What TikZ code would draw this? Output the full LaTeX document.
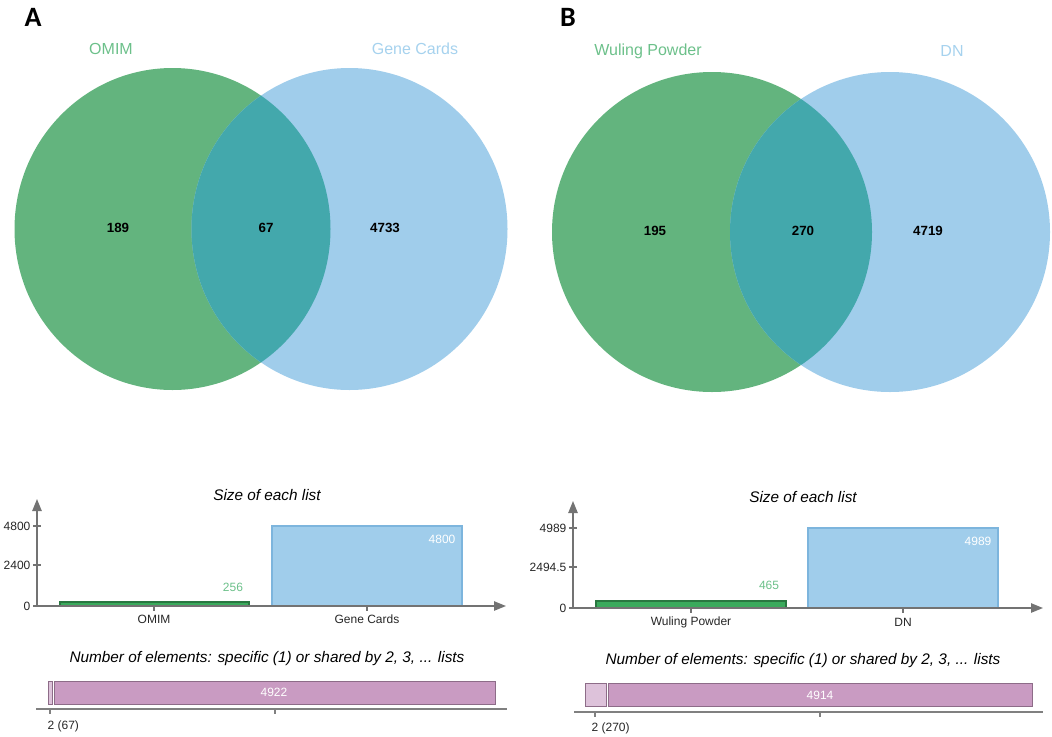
\documentclass[tikz,border=0pt]{standalone}
\usepackage{fontspec}
\setmainfont{Liberation Sans}
\newfontfamily\panelfont{Carlito}
\usetikzlibrary{positioning,arrows.meta}
\definecolor{venngreen}{HTML}{63B47E}
\definecolor{vennblue}{HTML}{A0CDEB}
\definecolor{vennteal}{HTML}{43A8AC}
\definecolor{lblgreen}{HTML}{6CC08A}
\definecolor{lblblue}{HTML}{A6D2EE}
\definecolor{bargreen}{HTML}{3AAA5C}
\definecolor{barblue}{HTML}{A0CDEB}
\definecolor{barblueline}{HTML}{7DB5DD}
\definecolor{barpurple}{HTML}{C99BC2}
\definecolor{barlilac}{HTML}{DDC2DA}
\tikzset{
	>={Triangle[length=9pt,width=7pt]},
	panel/.style={font=\panelfont\bfseries\fontsize{21}{24}\selectfont},
	setlabel/.style={font=\fontsize{12}{14}\selectfont},
	count/.style={font=\bfseries\fontsize{10}{12}\selectfont},
	charttitle/.style={font=\itshape\fontsize{11.5}{14}\selectfont},
	ticklabel/.style={font=\fontsize{9}{11}\selectfont, text=black!85, inner sep=1pt},
	vallabel/.style={font=\fontsize{9}{11}\selectfont, inner sep=1pt},
	axis/.style={draw=black!55, line width=1.1pt},
	thinaxis/.style={draw=black!50, line width=0.9pt},
	greenbar/.style={fill=bargreen, draw=bargreen!70!black, line width=1pt},
	bluebar/.style={fill=barblue, draw=barblueline, line width=0.8pt},
	purplebar/.style={fill=barpurple, draw=barpurple!70!black, line width=0.6pt},
	lilacbar/.style={fill=barlilac, draw=barpurple!70!black, line width=0.6pt},
}

\begin{document}
\begin{tikzpicture}[x=0.75pt, y=-0.75pt]
	\useasboundingbox (0,0) rectangle (1052,736);

	% ---- panel A: Venn
	\node[panel] (pa) at (33,17) {A};
	\fill[venngreen] (172.5,229) circle [x radius=158, y radius=161];
	\fill[vennblue] (349.5,229) circle [x radius=158, y radius=161];
	\begin{scope}
		\clip (172.5,229) circle [x radius=158, y radius=161];
		\fill[vennteal] (349.5,229) circle [x radius=158, y radius=161];
	\end{scope}
	\node[setlabel, text=lblgreen] (omim) at (111,49) {OMIM};
	\node[setlabel, text=lblblue] (gc) at (415,49) {Gene Cards};
	\node[count] (a189) at (118,228) {189};
	\node[count] (a67) at (266,228) {67};
	\node[count] (a4733) at (385,228) {4733};

	% ---- panel B: Venn
	\node[panel] (pb) at (568,17) {B};
	\fill[venngreen] (712,232) circle [radius=160];
	\fill[vennblue] (890,232) circle [radius=160];
	\begin{scope}
		\clip (712,232) circle [radius=160];
		\fill[vennteal] (890,232) circle [radius=160];
	\end{scope}
	\node[setlabel, text=lblgreen] (wp) at (648,51) {Wuling Powder};
	\node[setlabel, text=lblblue] (dn) at (952,51) {DN};
	\node[count] (b195) at (655,231) {195};
	\node[count] (b270) at (803,231) {270};
	\node[count] (b4719) at (928,231) {4719};

	% ---- panel A: size of each list
	\node[charttitle] (sizeA) at (267,495) {Size of each list};
	\coordinate (oA) at (37,606);
	\coordinate (yA) at (37,499);
	\coordinate (xA) at (506,606);
	\draw[greenbar] (60,602) rectangle (249,606);
	\draw[bluebar] (272,526) rectangle (462,606);
	\draw[axis,->] (oA) -- (yA);
	\draw[axis,->] (oA) -- (xA);
	\foreach \y/\t in {526/4800, 565/2400, 606/0}{
		\draw[axis, line width=0.8pt] (33,\y) -- (41,\y);
		\node[ticklabel, anchor=east] (tA\t) at (32,\y) {\t};
	}
	\foreach \x/\t in {154/OMIM, 367/Gene Cards}{
		\draw[axis, line width=0.8pt] (\x,606) -- (\x,611);
		\node[ticklabel] (cA\x) at (\x,619) {\t};
	}
	\node[vallabel, text=lblgreen] (vA256) at (233,587) {256};
	\node[vallabel, text=white] (vA4800) at (442,539) {4800};

	% ---- panel A: shared elements
	\node[charttitle] (shA) at (267,659) {Number of elements: specific (1) or shared by 2, 3, ... lists};
	\draw[lilacbar] (48,681) rectangle (52.5,704);
	\draw[purplebar] (54,681) rectangle (495,704);
	\node[vallabel, text=white] (vA4922) at (274,692) {4922};
	\draw[thinaxis] (36,709) -- (507,709);
	\foreach \x in {50,275}
		\draw[thinaxis] (\x,709) -- (\x,714);
	\node[ticklabel, anchor=west] (kA) at (46,726) {2 (67)};

	% ---- panel B: size of each list
	\node[charttitle] (sizeB) at (803,497) {Size of each list};
	\coordinate (oB) at (573,608);
	\coordinate (yB) at (573,501);
	\coordinate (xB) at (1043,608);
	\draw[greenbar] (596,601) rectangle (786,608);
	\draw[bluebar] (808,528) rectangle (998,608);
	\draw[axis,->] (oB) -- (yB);
	\draw[axis,->] (oB) -- (xB);
	\foreach \y/\t [count=\i] in {528/4989, 567/2494.5, 608/0}{
		\draw[axis, line width=0.8pt] (569,\y) -- (577,\y);
		\node[ticklabel, anchor=east] (tB\i) at (568,\y) {\t};
	}
	\foreach \x/\t in {691/Wuling Powder, 903/DN}{
		\draw[axis, line width=0.8pt] (\x,608) -- (\x,613);
		\node[ticklabel] (cB\x) at (\x,622) {\t};
	}
	\node[vallabel, text=lblgreen] (vB465) at (769,585) {465};
	\node[vallabel, text=white] (vB4989) at (978,541) {4989};

	% ---- panel B: shared elements
	\node[charttitle] (shB) at (803,661) {Number of elements: specific (1) or shared by 2, 3, ... lists};
	\draw[lilacbar] (585,683) rectangle (606,706);
	\draw[purplebar] (608,683) rectangle (1032,706);
	\node[vallabel, text=white] (vB4914) at (820,695) {4914};
	\draw[thinaxis] (574,712) -- (1043,712);
	\foreach \x in {595,820}
		\draw[thinaxis] (\x,712) -- (\x,717);
	\node[ticklabel, anchor=west] (kB) at (590,728) {2 (270)};
\end{tikzpicture}
\end{document}
